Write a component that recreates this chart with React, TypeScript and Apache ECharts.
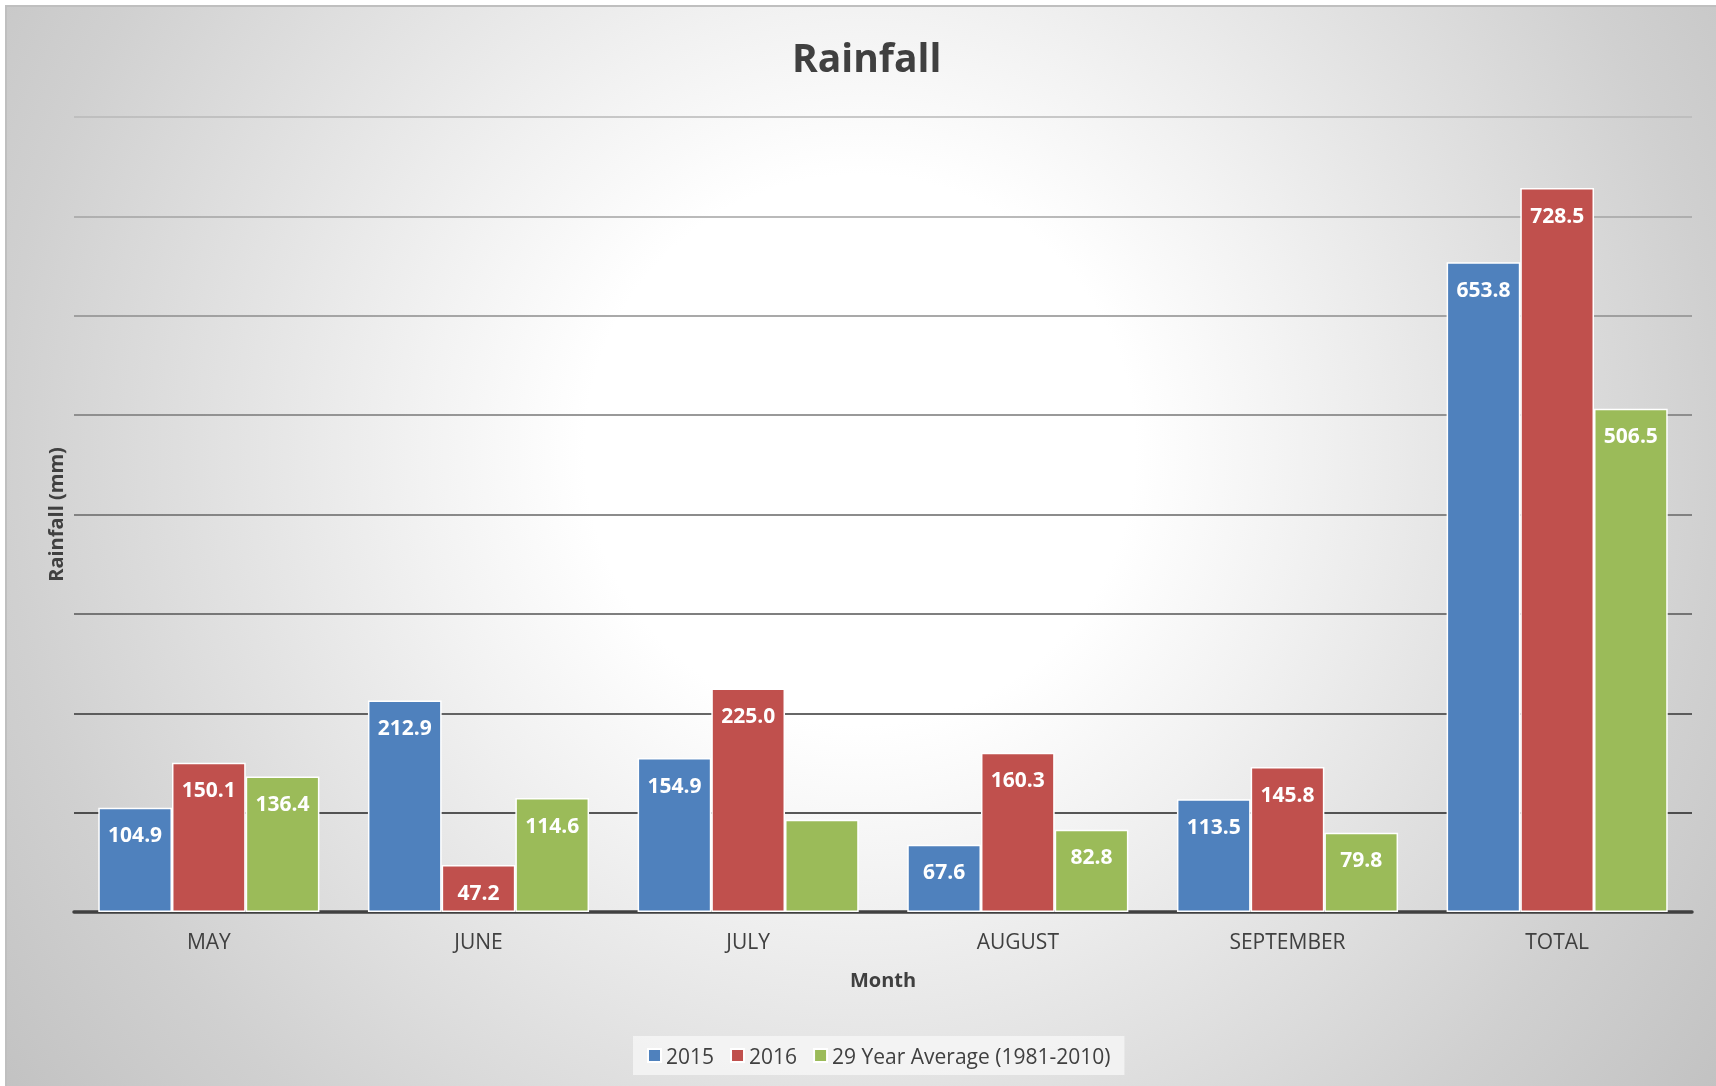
import React, { useEffect, useRef } from "react";
import * as echarts from "echarts";

const categories = ["MAY", "JUNE", "JULY", "AUGUST", "SEPTEMBER", "TOTAL"];
const seriesNames = ["2015", "2016", "29 Year Average (1981-2010)"];
const values2015 = [104.9, 212.9, 154.9, 67.6, 113.5, 653.8];
const values2016 = [150.1, 47.2, 225.0, 160.3, 145.8, 728.5];
const valuesAvg = [136.4, 114.6, 92.9, 82.8, 79.8, 506.5];
// data labels that are not shown in the reference (series index, category index)
const hiddenLabels = [[2, 2]];
const seriesColors = ["#4F81BD", "#C0504D", "#9BBB59"];
const gridLineColors = ["#404040", "#222222", "#353535", "#555555", "#666666", "#777777", "#8c8c8c", "#a3a3a3", "#b9b9b9"];

const FONT = "'Open Sans', 'Liberation Sans', sans-serif";

export default function App() {
  const ref = useRef<HTMLDivElement>(null);
  useEffect(() => {
    if (!ref.current) return;
    const chart = echarts.init(ref.current, undefined, { renderer: "svg" });
    const allValues = [values2015, values2016, valuesAvg];
    const series = allValues.map((vals, si) => ({
      name: seriesNames[si],
      type: "bar",
      barGap: "0%",
      barCategoryGap: "18%",
      itemStyle: { color: seriesColors[si], borderColor: "#ffffff", borderWidth: 1.5 },
      label: {
        show: true,
        position: "insideTop",
        distance: 16,
        color: "#ffffff",
        fontSize: 21,
        fontWeight: "bold",
        fontFamily: FONT,
        formatter: (p: any) => Number(p.value).toFixed(1),
      },
      data: vals.map((v, ci) =>
        hiddenLabels.some(([s, c]) => s === si && c === ci)
          ? { value: v, label: { show: false } }
          : v
      ),
    }));
    chart.setOption({
      animation: false,
      textStyle: { fontFamily: FONT },
      graphic: [
        {
          type: "rect",
          z: -10,
          silent: true,
          shape: { x: 6, y: 6, width: 1716, height: 1086 },
          style: {
            fill: new echarts.graphic.RadialGradient(860, 450, 1100, [
              { offset: 0, color: "#ffffff" },
              { offset: 0.25, color: "#ffffff" },
              { offset: 0.4, color: "#f2f2f2" },
              { offset: 0.6, color: "#e0e0e0" },
              { offset: 0.78, color: "#d0d0d0" },
              { offset: 1, color: "#c0c0c0" },
            ], true),
            stroke: "#bfbfbf",
            lineWidth: 2,
          },
        },
      ],
      title: {
        text: "Rainfall",
        left: 787,
        top: 32,
        textStyle: { fontSize: 39, fontWeight: "bold", color: "#404040", fontFamily: FONT },
      },
      legend: {
        data: seriesNames,
        left: 633,
        top: 1036,
        padding: [9, 14],
        itemWidth: 13,
        itemHeight: 13,
        itemGap: 16,
        icon: "rect",
        backgroundColor: "rgba(246,246,246,0.8)",
        textStyle: { fontSize: 21, color: "#404040", fontFamily: FONT },
      },
      grid: { left: 74, right: 24, top: 117, bottom: 174 },
      xAxis: {
        type: "category",
        data: categories,
        name: "Month",
        nameLocation: "middle",
        nameGap: 57,
        nameTextStyle: { fontSize: 20, fontWeight: "bold", color: "#404040", fontFamily: FONT },
        axisLine: { show: true, lineStyle: { color: "#404040", width: 3.5 } },
        axisTick: { show: false },
        axisLabel: { color: "#404040", fontSize: 21, margin: 18, fontFamily: FONT },
      },
      yAxis: {
        type: "value",
        min: 0,
        max: 800,
        interval: 100,
        name: "Rainfall (mm)",
        nameLocation: "middle",
        nameGap: 9,
        nameTextStyle: { fontSize: 20, fontWeight: "bold", color: "#404040", fontFamily: FONT },
        axisLine: { show: false },
        axisTick: { show: false },
        axisLabel: { show: false },
        splitLine: { show: true, lineStyle: { color: gridLineColors, width: 1.5 } },
      },
      series,
    });
    return () => chart.dispose();
  }, []);
  return (
    <div
      ref={ref}
      style={{ position: "fixed", left: 0, top: 0, width: 1716, height: 1086 }}
    />
  );
}
